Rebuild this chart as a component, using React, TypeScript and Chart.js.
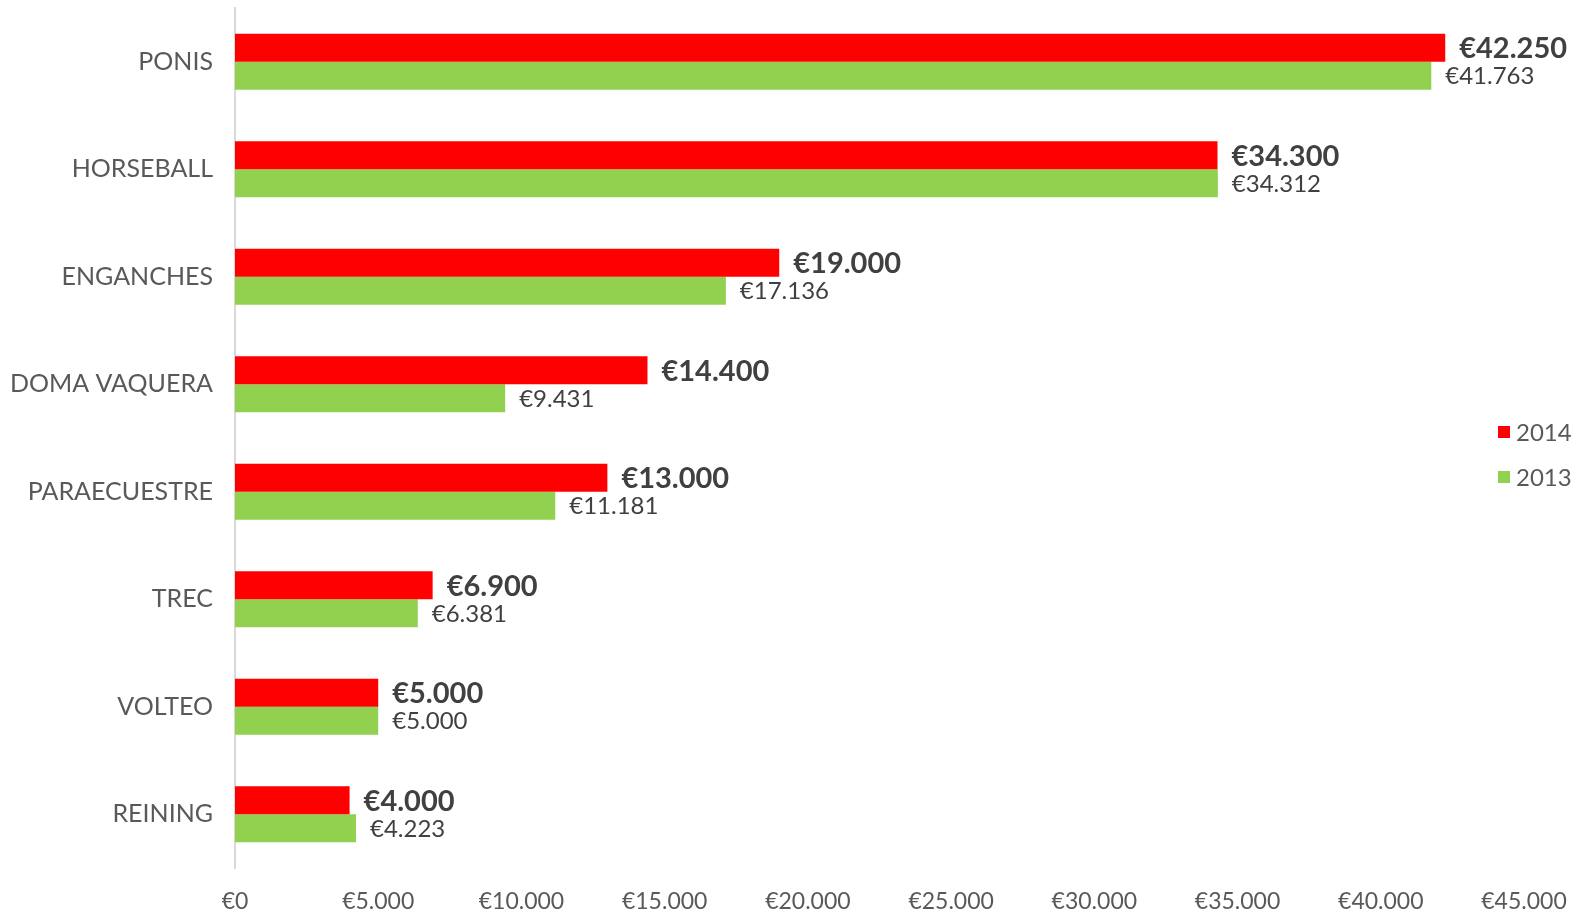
import React, { useEffect, useRef } from "react";
import { Chart, registerables } from "chart.js";

Chart.register(...registerables);

const categories = ["PONIS", "HORSEBALL", "ENGANCHES", "DOMA VAQUERA", "PARAECUESTRE", "TREC", "VOLTEO", "REINING"];
const values2014 = [42250, 34300, 19000, 14400, 13000, 6900, 5000, 4000];
const values2013 = [41763, 34312, 17136, 9431, 11181, 6381, 5000, 4223];
const seriesNames = ["2014", "2013"];
const xMax = 45000;
const xStep = 5000;

const FONT = "'Lato', 'Open Sans', sans-serif";

const fmt = (v: number) => "€" + Math.round(v).toString().replace(/\B(?=(\d{3})+(?!\d))/g, ".");

const labelPlugin = {
  id: "valueLabels",
  afterDatasetsDraw(chart: any) {
    const ctx = chart.ctx;
    chart.data.datasets.forEach((ds: any, di: number) => {
      const meta = chart.getDatasetMeta(di);
      meta.data.forEach((bar: any, i: number) => {
        const v = ds.data[i];
        ctx.save();
        ctx.fillStyle = "#404040";
        ctx.textBaseline = "middle";
        ctx.textAlign = "left";
        ctx.font = di === 0 ? `bold 29px ${FONT}` : `24px ${FONT}`;
        ctx.fillText(fmt(v), bar.x + 14, bar.y + 1);
        ctx.restore();
      });
    });
  },
};

const legendPlugin = {
  id: "customLegend",
  afterDraw(chart: any) {
    const ctx = chart.ctx;
    const ys = [432, 477];
    chart.data.datasets.forEach((ds: any, di: number) => {
      ctx.save();
      ctx.fillStyle = ds.backgroundColor;
      ctx.fillRect(1498, ys[di] - 6, 12, 12);
      ctx.fillStyle = "#595959";
      ctx.font = `24px ${FONT}`;
      ctx.textBaseline = "middle";
      ctx.textAlign = "left";
      ctx.fillText(ds.label, 1516, ys[di] + 1);
      ctx.restore();
    });
  },
};

export default function App() {
  const ref = useRef<HTMLCanvasElement>(null);
  useEffect(() => {
    document.body.style.margin = "0";
    const chart = new Chart(ref.current!, {
      type: "bar",
      data: {
        labels: categories,
        datasets: [
          { label: seriesNames[0], data: values2014, backgroundColor: "#ff0000", borderWidth: 0 },
          { label: seriesNames[1], data: values2013, backgroundColor: "#92d050", borderWidth: 0 },
        ],
      },
      options: {
        indexAxis: "y",
        animation: false,
        responsive: false,
        maintainAspectRatio: false,
        layout: { padding: { top: 8, right: 58, left: 0, bottom: 0 } },
        datasets: { bar: { barPercentage: 1, categoryPercentage: 0.52 } },
        plugins: { legend: { display: false }, tooltip: { enabled: false } },
        scales: {
          x: {
            min: 0,
            max: xMax,
            ticks: {
              stepSize: xStep,
              color: "#595959",
              font: { family: FONT, size: 23 },
              padding: 12,
              callback: (v: any) => fmt(Number(v)),
              maxRotation: 0,
              autoSkip: false,
            },
            grid: { display: false },
            border: { display: false },
            afterFit: (s: any) => { s.height = 44; s.paddingLeft = 0; s.paddingRight = 0; },
          },
          y: {
            ticks: { color: "#595959", font: { family: FONT, size: 25 }, padding: 22 },
            grid: { drawOnChartArea: false, drawTicks: false },
            border: { display: true, color: "#d9d9d9", width: 2 },
            afterFit: (s: any) => { s.width = 235; s.paddingTop = 0; s.paddingBottom = 0; },
          },
        },
      },
      plugins: [labelPlugin, legendPlugin],
    });
    return () => chart.destroy();
  }, []);
  return (
    <div style={{ width: 1582, height: 912, background: "#fff" }}>
      <canvas ref={ref} width={1582} height={912} style={{ display: "block" }} />
    </div>
  );
}
